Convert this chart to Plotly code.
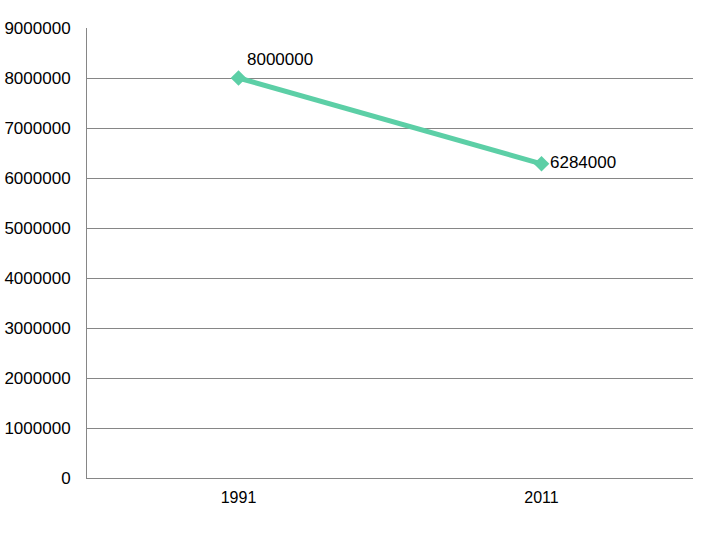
import plotly.graph_objects as go

years = ["1991", "2011"]
values = [8000000, 6284000]
label_positions = ["top right", "middle right"]

fig = go.Figure()
fig.add_trace(go.Scatter(
    x=years, y=values,
    mode="lines+markers+text",
    line=dict(color="#5CCFA6", width=5),
    marker=dict(symbol="diamond", size=12, color="#5CCFA6"),
    text=[str(v) for v in values],
    textposition=label_positions,
    textfont=dict(family="Liberation Sans", size=17, color="black"),
    cliponaxis=False,
))

fig.update_layout(
    width=720, height=540,
    margin=dict(l=87, r=27, t=28, b=62),
    plot_bgcolor="white", paper_bgcolor="white",
    showlegend=False,
    font=dict(family="Liberation Sans", size=16, color="black"),
)
fig.update_xaxes(
    type="category", range=[-0.5, 1.5], automargin=False,
    showgrid=False, showline=True, linecolor="#868686", linewidth=1,
    ticks="", ticklabelstandoff=5,
)
fig.update_yaxes(
    range=[0, 9000000], dtick=1000000, tickformat="d", automargin=False,
    showgrid=True, gridcolor="#868686", gridwidth=1,
    showline=True, linecolor="#868686", linewidth=1,
    zeroline=False, ticks="", ticklabelstandoff=12,
    tickfont=dict(size=17),
)
fig.write_html(
    "out.html",
    config={"displayModeBar": False},
    post_script="document.body.style.margin='0';document.body.style.padding='0';",
)
